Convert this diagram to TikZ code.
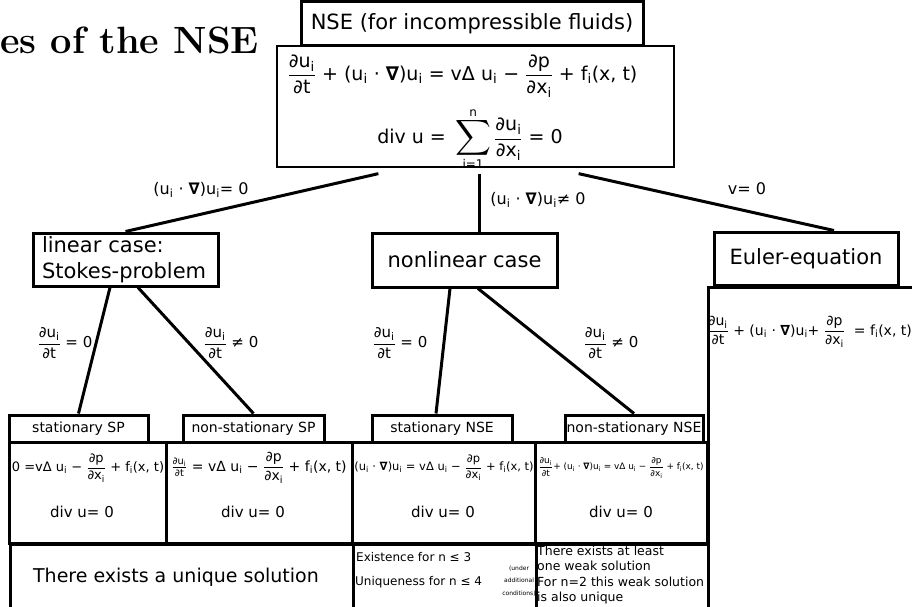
\documentclass[tikz,border=0pt]{standalone}
\usepackage{fix-cm}
\usepackage{amsmath}
\usepackage{fontspec}
\newfontfamily\dv{DejaVu Sans}
\usetikzlibrary{calc}
\newcommand\T[1]{\text{#1}}
\newcommand\I{_{\text{i}}}
\newcommand\nab{\textbf{∇}}
\newcommand\fsz[2]{\fontsize{#1}{#2}\selectfont}
\newcommand\sumstack{\mathop{\vcenter{\offinterlineskip\halign{\hfil##\hfil\cr
  \hbox{\fsz{12}{12}n}\cr\noalign{\kern1.5pt}
  \hbox{\fsz{24}{24}$\displaystyle\sum$}\cr\noalign{\kern1.5pt}
  \hbox{\fsz{12}{12}i=1}\cr}}}}
\tikzset{
  box/.style={draw, line width=3pt, inner sep=0pt, fill=white},
  thinbox/.style={draw, line width=1.3pt, inner sep=0pt},
  conn/.style={line width=3pt},
  lbl/.style={inner sep=0pt, font=\dv\fsz{16}{19}},
  flbl/.style={inner sep=0pt, font=\dv\fsz{15}{18}},
  hd/.style={box, minimum height=27pt, font=\dv\fsz{14}{17}},
  eqbox/.style={box, minimum height=101pt},
  txt/.style={inner sep=0pt, font=\dv},
}
\begin{document}
\begin{tikzpicture}[x=1pt,y=-1pt]
\useasboundingbox (0,0) rectangle (912,607);
\clip (0,0) rectangle (912,607);
% title
\node[inner sep=0pt, anchor=base west, font=\fsz{38}{41}\bfseries] (title) at (0,54) {es of the NSE};
% top
\node[thinbox, minimum width=397pt, minimum height=121pt] (eqtop) at (475.5,106.5) {};
\node[box, minimum width=342pt, minimum height=44pt, font=\dv\fsz{21}{25}] (nse) at (472,24) {NSE (for incompressible fluids)};
\node[txt, font=\dv\fsz{19}{23}] (eqtop1) at (462.5,76) {$\displaystyle\frac{\T{∂u}\I}{\T{∂t}}\T{ + (u}\I\T{ · }\nab\T{)u}\I\T{ = vΔ u}\I\T{ − }\frac{\T{∂p}}{\T{∂x}\I}\T{ + f}\I\T{(x, t)}$};
\node[txt, font=\dv\fsz{19}{23}] (eqtop2) at (470,139) {$\displaystyle\T{div u = }\sumstack\frac{\T{∂u}\I}{\T{∂x}\I}\T{ = 0}$};
% second level
\node[box, minimum width=185pt, minimum height=53pt, text width=167pt, inner xsep=9pt, align=left, font=\dv\fsz{21}{26}] (lin) at (125.5,259.5) {linear case:\\Stokes-problem};
\node[box, minimum width=185pt, minimum height=54pt, font=\dv\fsz{21}{25}] (nl) at (464.5,260) {nonlinear case};
\node[box, minimum width=184pt, minimum height=53pt, font=\dv\fsz{21}{25}] (eu) at (806,258.5) {Euler-equation};
\node[box, minimum width=260pt, minimum height=360pt, anchor=north west] (eubox) at (707,286) {};
\node[txt, font=\dv\fsz{14}{17}] (eueq) at (809.5,332) {$\displaystyle\frac{\T{∂u}\I}{\T{∂t}}\T{ + (u}\I\T{ · }\nab\T{)u}\I\T{+ }\frac{\T{∂p}}{\T{∂x}\I}\T{\ \ = f}\I\T{(x, t)}$};
% connectors level 1
\draw[conn] ($(eqtop.south west)+(102,6)$) -- (lin.north);
\draw[conn] ($(eqtop.south)+(3.5,6)$) -- ($(nl.north)+(14.5,0)$);
\draw[conn] ($(eqtop.south east)+(-96,6)$) -- ($(eu.north)+(28,0)$);
\node[lbl] (l1) at (201,190) {$\T{(u}\I\T{ · }\nab\T{)u}\I\T{= 0}$};
\node[lbl] (l2) at (538,200) {$\T{(u}\I\T{ · }\nab\T{)u}\I\T{≠ 0}$};
\node[lbl] (l3) at (747,189) {v= 0};
% third level headers
\node[hd, minimum width=139pt] (sSP) at (78.5,428.5) {stationary SP};
\node[hd, minimum width=141pt] (nsSP) at (253.5,428.5) {non-stationary SP};
\node[hd, minimum width=140pt] (sNSE) at (442,428.5) {stationary NSE};
\node[hd, minimum width=138pt] (nsNSE) at (634,428.5) {non-stationary NSE};
% connectors level 2
\draw[conn] ($(lin.south)+(-15.5,0)$) -- (sSP.north);
\draw[conn] ($(lin.south)+(12.5,0)$) -- (nsSP.north);
\draw[conn] ($(nl.south)+(-14.5,0)$) -- ($(sNSE.north)+(-6,0)$);
\draw[conn] ($(nl.south)+(13.5,0)$) -- (nsNSE.north);
\node[flbl] (l4) at (65,343) {$\displaystyle\frac{\T{∂u}\I}{\T{∂t}}\T{ = 0}$};
\node[flbl] (l5) at (231,343) {$\displaystyle\frac{\T{∂u}\I}{\T{∂t}}\T{ ≠ 0}$};
\node[flbl] (l6) at (400,343) {$\displaystyle\frac{\T{∂u}\I}{\T{∂t}}\T{ = 0}$};
\node[flbl] (l7) at (611,343) {$\displaystyle\frac{\T{∂u}\I}{\T{∂t}}\T{ ≠ 0}$};
% equation boxes
\node[eqbox, minimum width=157pt] (eqA) at (87.5,492.5) {};
\node[eqbox, minimum width=186pt] (eqB) at (259,492.5) {};
\node[eqbox, minimum width=183pt] (eqC) at (443.5,492.5) {};
\node[eqbox, minimum width=172pt] (eqD) at (621,492.5) {};
\node[txt, font=\dv\fsz{13}{16}] (eqA1) at (88,468) {$\displaystyle\T{0 =vΔ u}\I\T{ − }\frac{\T{∂p}}{\T{∂x}\I}\T{ + f}\I\T{(x, t)}$};
\node[txt, font=\dv\fsz{15}{18}] (eqA2) at (82,512) {div u= 0};
\node[txt, font=\dv\fsz{14}{17}] (eqB1) at (259,468) {$\frac{\T{∂u}\I}{\T{∂t}}\T{ = vΔ u}\I\T{ − }\displaystyle\frac{\T{∂p}}{\T{∂x}\I}\T{ + f}\I\T{(x, t)}$};
\node[txt, font=\dv\fsz{15}{18}] (eqB2) at (253,512) {div u= 0};
\node[txt, font=\dv\fsz{11.5}{14}] (eqC1) at (444,468) {$\T{(u}\I\T{ · }\nab\T{)u}\I\T{ = vΔ u}\I\T{ − }\displaystyle\frac{\T{∂p}}{\T{∂x}\I}\T{ + f}\I\T{(x, t)}$};
\node[txt, font=\dv\fsz{15}{18}] (eqC2) at (443,512) {div u= 0};
\node[txt, font=\dv\fsz{8.9}{10}] (eqD1) at (621,468) {$\displaystyle\frac{\T{∂u}\I}{\T{∂t}}\T{+ (u}\I\T{ · }\nab\T{)u}\I\T{ = vΔ u}\I\T{ − }\frac{\T{∂p}}{\T{∂x}\I}\T{ + f}\I\T{(x, t)}$};
\node[txt, font=\dv\fsz{15}{18}] (eqD2) at (621,512) {div u= 0};
% solution boxes
\node[box, minimum width=343pt, minimum height=90pt, anchor=north west] (solA) at (9,543) {};
\node[box, minimum width=183pt, minimum height=90pt, anchor=north west] (solC) at (352,543) {};
\node[box, minimum width=172pt, minimum height=90pt, anchor=north west] (solD) at (535,543) {};
\node[txt, font=\dv\fsz{19}{23}] (solAt) at (176,577) {There exists a unique solution};
\node[txt, anchor=base west, font=\dv\fsz{12}{14}] (solC1) at (356,561) {Existence for n ≤ 3};
\node[txt, anchor=base west, font=\dv\fsz{12}{14}] (solC2) at (355,585) {Uniqueness for n ≤ 4};
\node[txt, align=center, font=\dv\fsz{6}{12.5}] (solC3) at (519,581) {(under\\additional\\conditions)};
\node[txt, anchor=west, align=left, font=\dv\fsz{12.5}{15.5}] (solDt) at (537,575) {There exists at least\\one weak solution\\For n=2 this weak solution\\is also unique};
\end{tikzpicture}
\end{document}
